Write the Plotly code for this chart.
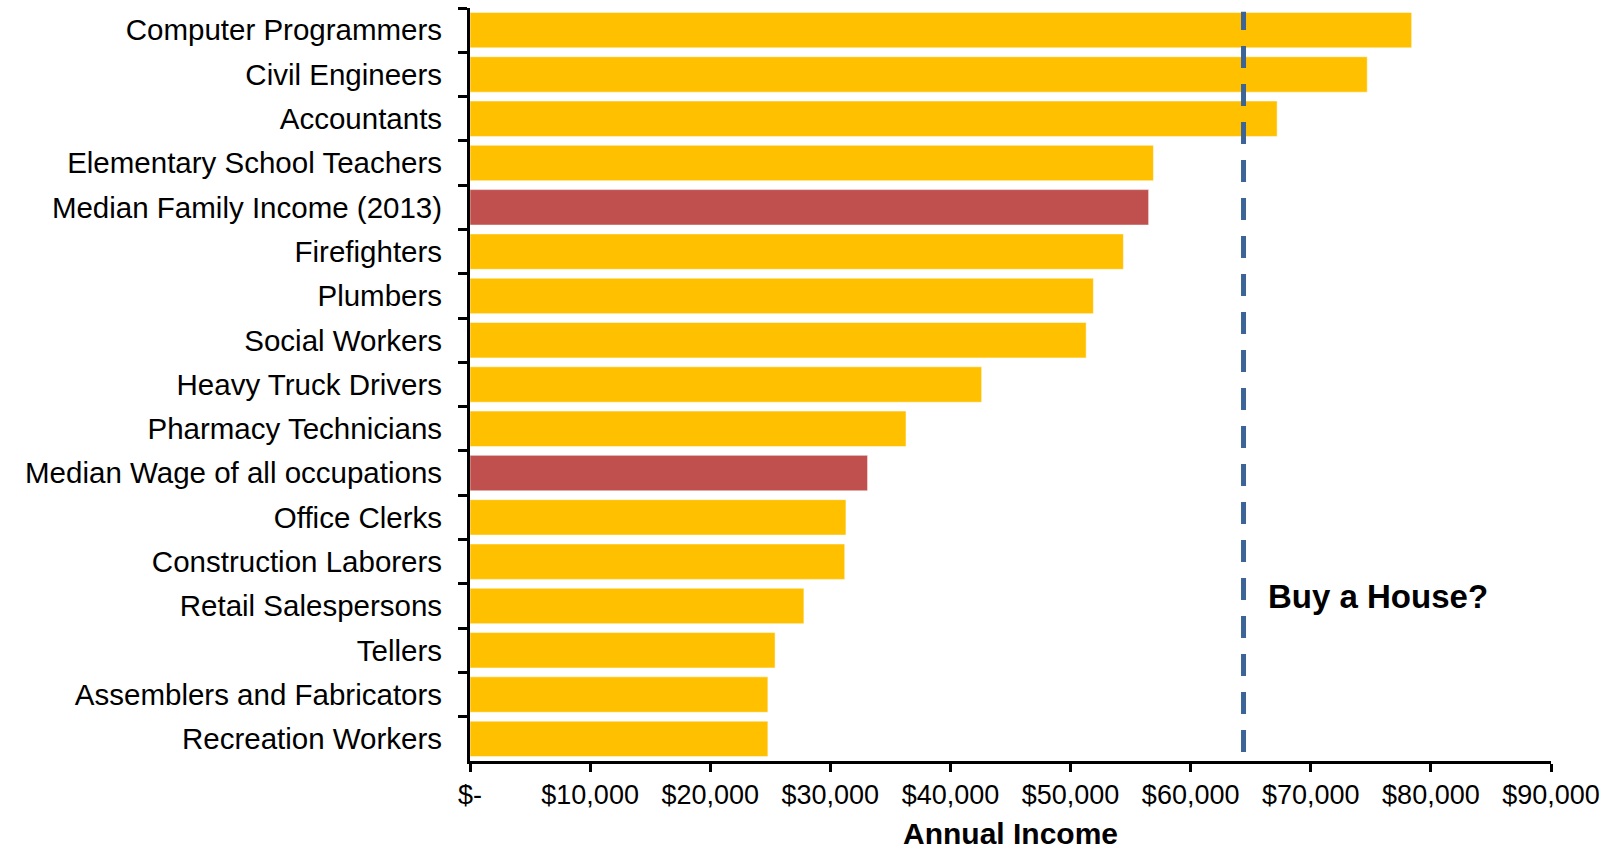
import plotly.graph_objects as go

categories = [
    "Computer Programmers", "Civil Engineers", "Accountants",
    "Elementary School Teachers", "Median Family Income (2013)", "Firefighters",
    "Plumbers", "Social Workers", "Heavy Truck Drivers", "Pharmacy Technicians",
    "Median Wage of all occupations", "Office Clerks", "Construction Laborers",
    "Retail Salespersons", "Tellers", "Assemblers and Fabricators", "Recreation Workers",
]
incomes = [78400, 74700, 67200, 56900, 56500, 54400, 51900, 51300, 42600, 36300,
           33100, 31300, 31200, 27800, 25400, 24800, 24800]
highlight = ["Median Family Income (2013)", "Median Wage of all occupations"]
house_threshold = 64400

tick_vals = [0, 10000, 20000, 30000, 40000, 50000, 60000, 70000, 80000, 90000]
tick_text = ["$-", "$10,000", "$20,000", "$30,000", "$40,000", "$50,000",
             "$60,000", "$70,000", "$80,000", "$90,000"]

GOLD = "#FFC000"
RED = "#C0504D"
colors = [RED if c in highlight else GOLD for c in categories]

fig = go.Figure()
fig.add_trace(go.Bar(
    x=incomes, y=categories, orientation="h",
    marker=dict(color=colors, line=dict(color="rgba(255,255,255,0.5)", width=1)),
    hoverinfo="x+y",
))

fig.add_shape(type="line", xref="x", yref="paper",
              x0=house_threshold, x1=house_threshold, y0=0.012, y1=0.995,
              line=dict(color="#3C6496", width=5, dash="22px,16px"))

fig.add_annotation(x=66300, y=0.218, xref="x", yref="paper",
                   text="<b>Buy a House?</b>", showarrow=False,
                   xanchor="left", yanchor="middle",
                   font=dict(size=33, color="black", family="Liberation Sans, Arial, sans-serif"))

fig.update_layout(
    width=1606, height=850,
    margin=dict(l=470, r=55, t=8, b=89),
    plot_bgcolor="white", paper_bgcolor="white",
    bargap=0.2, showlegend=False,
    font=dict(family="Liberation Sans, Arial, sans-serif", size=27, color="black"),
)
fig.update_xaxes(
    range=[0, 90000], tickvals=tick_vals, ticktext=tick_text,
    showline=True, linecolor="black", linewidth=3,
    ticks="outside", ticklen=8, tickwidth=3, tickcolor="black",
    showgrid=False, zeroline=False, automargin=False,
    tickfont=dict(size=27),
    title=dict(text="<b>Annual Income</b>", font=dict(size=30), standoff=16),
)
fig.update_yaxes(
    autorange="reversed",
    showline=True, linecolor="black", linewidth=3,
    ticks="outside", ticklen=9, tickwidth=3, tickcolor="black",
    tickson="boundaries", showgrid=False,
    tickfont=dict(size=29.5), ticklabelstandoff=19,
)

fig.write_html("out.html")
